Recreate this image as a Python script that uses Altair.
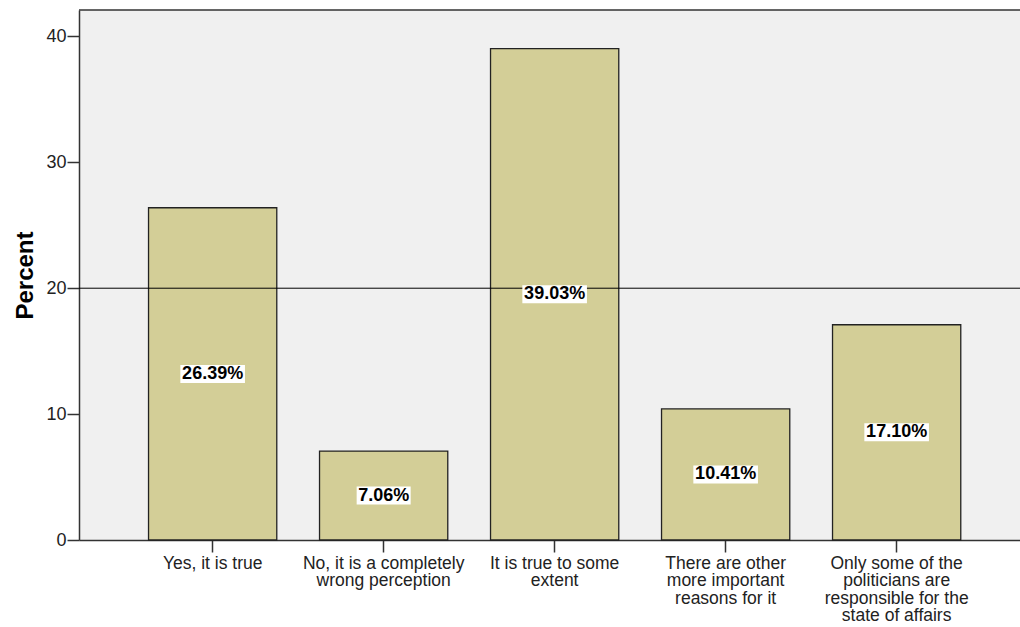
import altair as alt
import pandas as pd

categories = [
    "Yes, it is true",
    "No, it is a completely|wrong perception",
    "It is true to some|extent",
    "There are other|more important|reasons for it",
    "Only some of the|politicians are|responsible for the|state of affairs",
]
percents = [26.39, 7.06, 39.03, 10.41, 17.10]
y_ticks = [0, 10, 20, 30, 40]
reference_value = [20]

df = pd.DataFrame({"cat": categories, "pct": percents})
ref_df = pd.DataFrame({"ref": reference_value})

FONT = "Liberation Sans"
W, H = 941, 530

x_enc = alt.X(
    "cat:N",
    sort=categories,
    scale=alt.Scale(paddingInner=0.25, paddingOuter=0.3765, align=0.54),
    axis=alt.Axis(
        title=None,
        labelAngle=0,
        labelExpr="split(datum.value, '|')",
        labelLineHeight=17.5,
        labelFontSize=17.5,
        labelFont=FONT,
        labelColor="#222222",
        labelLimit=0,
        labelPadding=2,
        labelBaseline="top",
        tickSize=12,
        tickColor="#333333",
        tickWidth=1.5,
        domainColor="#333333",
        domainWidth=1.5,
    ),
)

y_scale = alt.Scale(domain=[0, 42.1], nice=False, zero=True)

bars = alt.Chart(df).mark_bar(
    fill="#d3ce97", stroke="#222222", strokeWidth=1.3
).encode(
    x=x_enc,
    y=alt.Y(
        "pct:Q",
        scale=y_scale,
        axis=alt.Axis(
            title="Percent",
            titleFont=FONT,
            titleFontSize=24,
            titleFontWeight="bold",
            titleColor="#000000",
            titlePadding=8,
            values=y_ticks,
            grid=False,
            labelFontSize=18,
            labelFont=FONT,
            labelColor="#222222",
            labelPadding=1,
            tickSize=12,
            tickColor="#333333",
            tickWidth=1.5,
            domainColor="#333333",
            domainWidth=1.5,
        ),
    ),
)

ref_rule = alt.Chart(ref_df).mark_rule(color="#000000", strokeWidth=1).encode(
    y=alt.Y("ref:Q", scale=y_scale)
)

labels_base = alt.Chart(df).transform_calculate(
    mid="datum.pct / 2",
    lo="datum.pct / 2 - 0.715",
    hi="datum.pct / 2 + 0.715",
    label="format(datum.pct, '.2f') + '%'",
).transform_calculate(
    boxw="length(datum.label) * 10.6 + 1"
)

boxes = labels_base.mark_bar(fill="white", stroke=None).encode(
    x=alt.X("cat:N", sort=categories),
    y=alt.Y("lo:Q", scale=y_scale),
    y2="hi:Q",
    size=alt.Size("boxw:Q", scale=None, legend=None),
)

texts = labels_base.mark_text(
    font=FONT, fontSize=18, fontWeight="bold", color="#000000", baseline="middle", align="center"
).encode(
    x=alt.X("cat:N", sort=categories),
    y=alt.Y("mid:Q", scale=y_scale),
    text="label:N",
)

top_border = alt.Chart(ref_df).mark_rule(color="#333333", strokeWidth=1.5).encode(
    x=alt.value(0), x2=alt.value(W), y=alt.value(0)
)

chart = alt.layer(bars, ref_rule, boxes, texts, top_border).properties(
    width=W,
    height=H,
    autosize=alt.AutoSizeParams(type="none"),
    padding={"left": 79, "top": 10, "right": 0, "bottom": 87},
    background="white",
).configure_view(
    fill="#f0f0f0", stroke=None
)

chart.save("out.html", embed_options={"renderer": "svg", "actions": False})
